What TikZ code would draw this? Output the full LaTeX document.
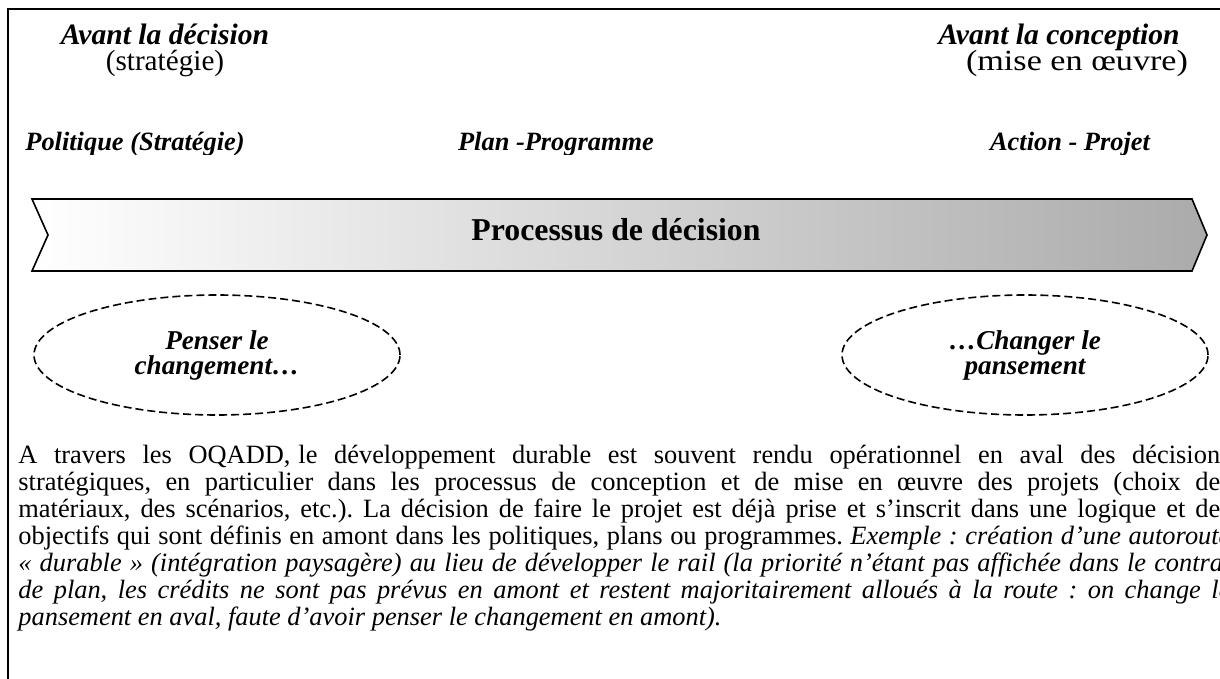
\documentclass[tikz,border=0pt]{standalone}
\usepackage{fontspec}
\setmainfont{Liberation Serif}
\usetikzlibrary{positioning, shapes.geometric}

\begin{document}
\begin{tikzpicture}[x=0.5pt, y=-0.5pt,
    titre/.style={font=\fontsize{14.8}{16}\selectfont\bfseries\itshape, inner sep=0pt, anchor=base},
    soustitre/.style={font=\fontsize{14.6}{16}\selectfont, inner sep=0pt, anchor=base},
    etape/.style={font=\fontsize{13.2}{15}\selectfont\bfseries\itshape, inner sep=0pt, anchor=base},
    bulle/.style={draw, ellipse, dashed, dash pattern=on 4pt off 2pt, line width=0.8pt,
        minimum width=183pt, minimum height=60pt, inner sep=0pt, align=center,
        font=\fontsize{13.6}{12.5}\selectfont\bfseries\itshape}]
    \useasboundingbox (0,0) rectangle (1220,679);
    \clip (0,0) rectangle (1220,679);

    % Cadre
    \draw[line width=0.75pt] (8,679) -- (8,9) -- (1220,9);

    % En-tetes
    \node[titre] (avdec) at (165,45) {Avant la décision};
    \node[soustitre] (strat) at (165,71) {(stratégie)};
    \node[titre] (avconc) at (1059,45) {Avant la conception};
    \node[soustitre] (oeuvre) at (1077,71) {\scalebox{1.17}[1]{(mise en œuvre)}};

    % Etapes (coupees en bas)
    \begin{scope}
        \clip (8,120) rectangle (1220,155);
        \node[etape, anchor=base west] (politique) at (25,151) {Politique (Stratégie)};
        \node[etape] (plan) at (556,151) {Plan -Programme};
        \node[etape] (action) at (1070,151) {Action - Projet};
    \end{scope}

    % Processus de decision
    \draw[line width=0.8pt, left color=white, right color=black!33]
        (32,199) -- (1192,199) -- (1207,235) -- (1192,271) -- (32,271) -- (48,235) -- cycle;
    \node[font=\fontsize{15.9}{18}\selectfont\bfseries] (processus) at (616,230) {Processus de décision};

    % Bulles
    \node[bulle] (penser) at (217,355) {Penser le\\changement…};
    \node[bulle] (changer) at (1025,355) {…Changer le\\pansement};

    % Texte
    \node[anchor=base west, inner sep=0pt, text width=606pt, align=justify,
        font=\fontsize{13.2}{13.5}\selectfont] (texte) at (18,463) {\tolerance=10000\frenchspacing
        A travers les OQADD,\hspace{0.3em}le développement durable est souvent rendu opérationnel en aval des décisions\linebreak
        stratégiques, en particulier dans les processus de conception et de mise en œuvre des projets (choix des\linebreak
        matériaux, des scénarios, etc.). La décision de faire le projet est déjà prise et s’inscrit dans une logique et des\linebreak
        objectifs qui sont définis en amont dans les politiques, plans ou programmes. \textit{Exemple : création d’une autoroute\linebreak
        « durable » (intégration paysagère) au lieu de développer le rail (la priorité n’étant pas affichée dans le contrat\linebreak
        de plan, les crédits ne sont pas prévus en amont et restent majoritairement alloués à la route : on change le\linebreak
        pansement en aval, faute d’avoir penser le changement en amont).}};
\end{tikzpicture}
\end{document}
